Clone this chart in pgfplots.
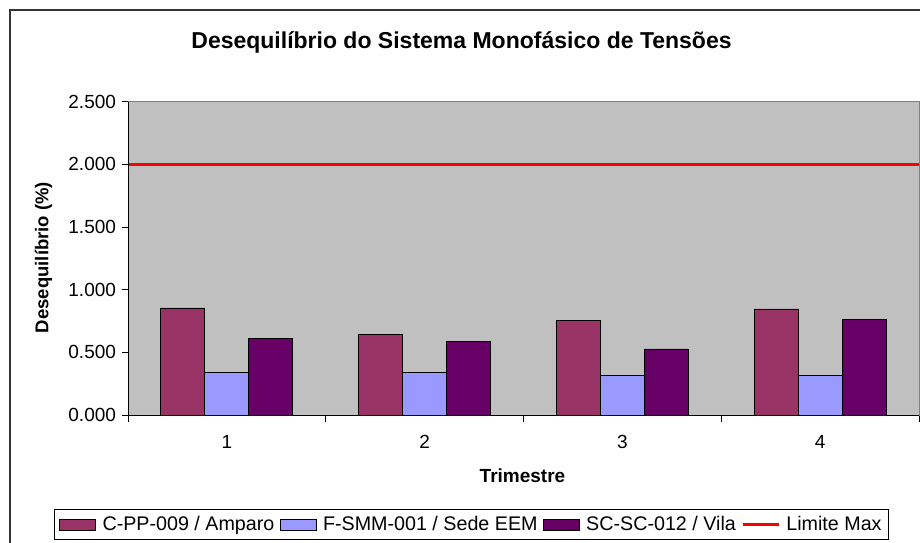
\documentclass[border=0pt]{standalone}
\usepackage{fontspec}
\setmainfont{Liberation Sans}
\usepackage{pgfplots}
\pgfplotsset{compat=1.18}
\definecolor{cpp}{HTML}{993366}
\definecolor{fsmm}{HTML}{9999FF}
\definecolor{scsc}{HTML}{660066}
\definecolor{plotbg}{HTML}{C0C0C0}
\definecolor{limred}{HTML}{FF0000}
\begin{document}
\begin{tikzpicture}
\draw[line width=1.3pt, black!80] (10pt,-5pt) -- (10pt,532pt) -- (930pt,532pt);
\begin{axis}[
  at={(128pt,127pt)}, anchor=south west,
  scale only axis, width=791pt, height=313.3pt,
  xmin=0.5, xmax=4.5, ymin=0, ymax=2.5,
  clip=false,
  axis background/.style={fill=plotbg},
  axis line style={draw=black!50, line width=0.8pt},
  ytick={0,0.5,1,1.5,2,2.5},
  yticklabels={0.000,0.500,1.000,1.500,2.000,2.500},
  xtick={0.5,1.5,2.5,3.5,4.5},
  xticklabels={},
  extra x ticks={1,2,3,4},
  extra x tick labels={1,2,3,4},
  extra x tick style={major tick length=0pt},
  xtick pos=bottom, ytick pos=left,
  tick align=outside,
  major tick length=6.5pt,
  tick style={black, line width=0.9pt},
  /pgf/number format/assume math mode=true,
  tick label style={font=\fontsize{19pt}{22pt}\selectfont},
  xticklabel style={yshift=-17pt},
  yticklabel style={xshift=-2pt},
  legend style={at={(0.4343,-0.3495)}, anchor=center, draw=black, line width=0.8pt,
    fill=white, font=\fontsize{19.7pt}{23pt}\selectfont,
    legend columns=4, inner xsep=5pt, inner ysep=5.5pt,
    /tikz/every odd column/.append style={column sep=4.2pt},
    /tikz/every even column/.append style={column sep=3.5pt}},
  legend cell align=left,
]
\addplot[ybar, bar width=0.2225, bar shift=-0.2225, fill=cpp, draw=black, line width=0.9pt,
  legend image code/.code={\draw[fill=cpp, draw=black, line width=0.9pt] (0pt,-5.5pt) rectangle (36pt,5.5pt);}]
  coordinates {(1,0.854) (2,0.644) (3,0.753) (4,0.846)};
\addlegendentry{C-PP-009 / Amparo}
\addplot[ybar, bar width=0.2225, bar shift=0, fill=fsmm, draw=black, line width=0.9pt,
  legend image code/.code={\draw[fill=fsmm, draw=black, line width=0.9pt] (0pt,-5.5pt) rectangle (36pt,5.5pt);}]
  coordinates {(1,0.338) (2,0.338) (3,0.314) (4,0.317)};
\addlegendentry{F-SMM-001 / Sede EEM}
\addplot[ybar, bar width=0.2225, bar shift=0.2225, fill=scsc, draw=black, line width=0.9pt,
  legend image code/.code={\draw[fill=scsc, draw=black, line width=0.9pt] (0pt,-5.5pt) rectangle (36pt,5.5pt);}]
  coordinates {(1,0.607) (2,0.583) (3,0.527) (4,0.766)};
\addlegendentry{SC-SC-012 / Vila}
\addplot[limred, line width=2.8pt,
  legend image code/.code={\draw[limred, line width=2.8pt] (0pt,0pt) -- (36pt,0pt);}]
  coordinates {(0.5,2) (4.5,2)};
\addlegendentry{Limite Max}
\draw[black, line width=1pt] (rel axis cs:0,1) -- (rel axis cs:0,0) -- (rel axis cs:1,0);
\end{axis}
\node[anchor=base, font=\bfseries\fontsize{23pt}{27pt}\selectfont] at (461.5pt,493pt) {Desequilíbrio do Sistema Monofásico de Tensões};
\node[rotate=90, font=\bfseries\fontsize{18.5pt}{22pt}\selectfont] at (43.5pt,284.5pt) {Desequilíbrio (\%)};
\node[anchor=base, font=\bfseries\fontsize{19pt}{22pt}\selectfont] at (522.5pt,60pt) {Trimestre};
\pgfresetboundingbox
\useasboundingbox (0,0) rectangle (920pt,542pt);
\end{tikzpicture}
\end{document}
